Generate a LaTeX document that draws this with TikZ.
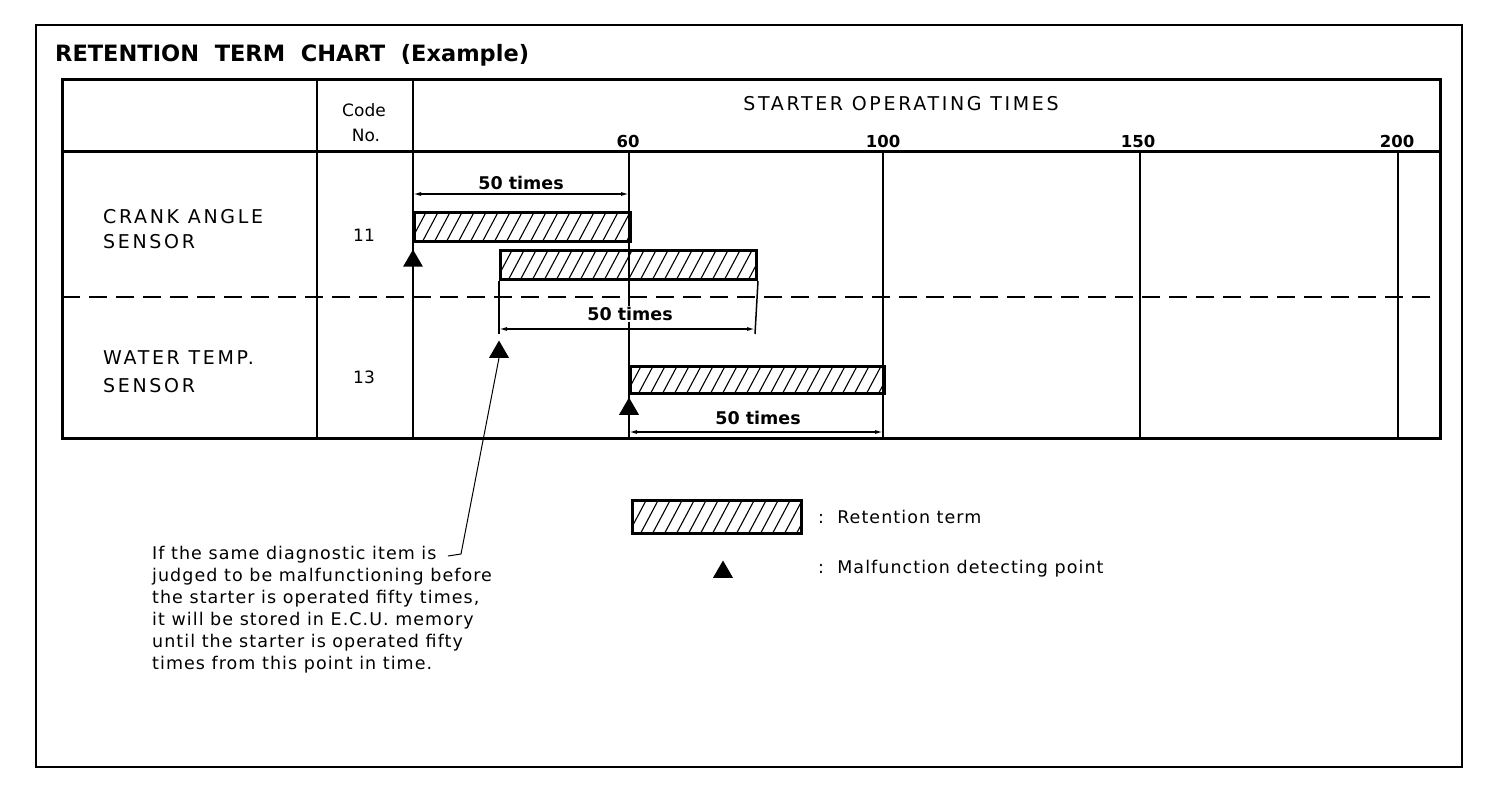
\documentclass[tikz,border=0pt]{standalone}
\usepackage{fontspec}
\setmainfont{DejaVu Sans}
\newfontfamily\spacedcaps[LetterSpace=14]{DejaVu Sans}
\newfontfamily\spacedbody[LetterSpace=6]{DejaVu Sans}
\usetikzlibrary{shapes.geometric,arrows.meta}
\begin{document}
\begin{tikzpicture}[x=1pt,y=-1pt,
  frameline/.style={line width=2.5pt},
  thickline/.style={line width=3pt},
  gridline/.style={line width=1.5pt},
  sepline/.style={line width=1.5pt, dash pattern=on 18pt off 9pt},
  leader/.style={line width=1pt},
  dimline/.style={line width=1.3pt, {Latex[length=8pt,width=4pt]}-{Latex[length=8pt,width=4pt]}},
  hatchbar/.style={draw, line width=3pt, inner sep=0pt, anchor=north west,
    path picture={\foreach \i in {-40,-28,...,300}
      \draw[line width=1.1pt] ([xshift=\i pt]path picture bounding box.south west) -- ++(62:45pt);}},
  tri/.style={regular polygon, regular polygon sides=3, fill=black, inner sep=0pt, minimum size=23pt},
  rowlabel/.style={anchor=west, align=left, font=\spacedcaps\fontsize{19}{25}\selectfont},
  hdr/.style={font=\fontsize{17}{25}\selectfont},
  num/.style={font=\bfseries\fontsize{16.5}{20}\selectfont},
  dimtext/.style={font=\bfseries\fontsize{17.5}{20}\selectfont},
  body/.style={font=\spacedbody\fontsize{17.5}{22}\selectfont, align=left}
]
\useasboundingbox (0,0) rectangle (1504,810);
% outer frame
\draw[frameline] (36,25) rectangle (1462,767);
% title
\node[anchor=west, inner sep=0pt, font=\bfseries\fontsize{22.5}{26}\selectfont] (title) at (55,55) {RETENTION\ \ TERM\ \ CHART\ \ (Example)};
% table
\draw[thickline] (62,80) rectangle (1440,438);
\draw[thickline] (62,152) -- (1440,152);
\draw[gridline] (317,80) -- (317,438);
\draw[gridline] (413,80) -- (413,438);
\foreach \x in {629,883,1140,1398} \draw[gridline] (\x,152) -- (\x,438);
\draw[sepline] (62,297) -- (1440,297);
% header texts
\node[hdr] (code) at (364,110) {Code};
\node[hdr] (no) at (366,135) {No.};
\node[font=\spacedcaps\fontsize{19}{25}\selectfont] (sot) at (901,104) {STARTER OPERATING TIMES};
\node[num] (n60) at (628,141) {60};
\node[num] (n100) at (883,141) {100};
\node[num] (n150) at (1138,141) {150};
\node[num] (n200) at (1397,141) {200};
% row labels
\node[rowlabel, inner sep=0pt] (crank) at (103,229) {CRANK ANGLE\\SENSOR};
\node[rowlabel, inner sep=0pt, font=\spacedcaps\fontsize{19}{28}\selectfont] (water) at (103,372) {WATER TEMP.\\SENSOR};
\node[hdr] (c11) at (364,235) {11};
\node[hdr] (c13) at (364,377) {13};
% bars
\node[hatchbar, minimum width=216pt, minimum height=29pt] (bar1) at (413,211) {};
\node[hatchbar, minimum width=256pt, minimum height=29pt] (bar2) at (499,249) {};
\node[hatchbar, minimum width=254pt, minimum height=27pt] (bar3) at (629,365) {};
% triangles
\node[tri] (t1) at (413,261) {};
\node[tri] (t2) at (499,352) {};
\node[tri] (t3) at (629,409) {};
% extension lines
\coordinate (e2) at (499,334);
\coordinate (e3) at (755,334);
\draw[gridline] (bar2.south west) -- (e2);
\draw[gridline] (bar2.south east) -- (e3);
% dimension lines
\coordinate (d1a) at (413,194); \coordinate (d1b) at (629,194);
\coordinate (d2a) at (499,329); \coordinate (d2b) at (755,329);
\coordinate (d3a) at (629,432); \coordinate (d3b) at (883,432);
\draw[dimline] (d1a) -- (d1b);
\draw[dimline] (d2a) -- (d2b);
\draw[dimline] (d3a) -- (d3b);
\node[dimtext] (w1) at (521,183) {50 times};
\node[dimtext, fill=white, inner sep=1pt] (w2) at (630,314) {50 times};
\node[dimtext] (w3) at (758,418) {50 times};
% note
\node[body, anchor=north west, inner sep=0pt] (note) at (152,546) {If the same diagnostic item is\\judged to be malfunctioning before\\the starter is operated fifty times,\\it will be stored in E.C.U. memory\\until the starter is operated fifty\\times from this point in time.};
\coordinate (lk) at (461,554);
\coordinate (le) at (448,556);
\draw[leader] (t2.south) -- (lk) -- (le);
% legend
\node[hatchbar, minimum width=169pt, minimum height=33pt] (legbar) at (631,499) {};
\node[body, anchor=west, inner sep=0pt] (legt1) at (818,517) {:\ \ Retention term};
\node[tri] (legtri) at (723,572) {};
\node[body, anchor=west, inner sep=0pt] (legt2) at (818,569) {:\ \ Malfunction detecting point};
\end{tikzpicture}
\end{document}
